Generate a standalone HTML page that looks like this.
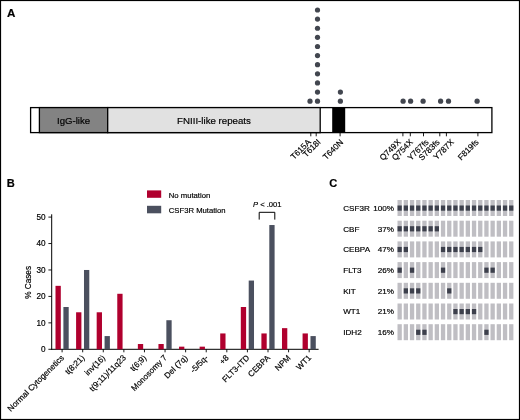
<!DOCTYPE html>
<html><head><meta charset="utf-8"><style>
html,body{margin:0;padding:0;background:#fff;}
svg{display:block;font-family:"Liberation Sans",sans-serif;}
text{stroke:#000;stroke-width:0.18px;}
svg{will-change:transform;}
</style></head><body>
<svg width="520" height="420" viewBox="0 0 520 420">
<rect x="0.5" y="0.5" width="519" height="419" fill="#fff" stroke="#000" stroke-width="1.2"/>
<text x="6.9" y="16.9" font-size="11.6" font-weight="bold">A</text>
<text x="6.8" y="187.4" font-size="11.1" font-weight="bold">B</text>
<text x="329.2" y="187.3" font-size="11.1" font-weight="bold">C</text>
<rect x="30.6" y="107.6" width="461.3" height="25" fill="#fff" stroke="#000" stroke-width="1.3"/>
<rect x="39.4" y="107.6" width="68.3" height="25" fill="#838383" stroke="#000" stroke-width="1.3"/>
<rect x="107.7" y="107.6" width="212.5" height="25" fill="#e1e1e1" stroke="#000" stroke-width="1.3"/>
<rect x="332.2" y="107.6" width="13.0" height="25" fill="#000"/>
<text x="73.5" y="123.6" font-size="9.6" text-anchor="middle" fill="#000">IgG-like</text>
<text x="214" y="123.6" font-size="9.7" text-anchor="middle" fill="#000">FNIII-like repeats</text>
<circle cx="317.5" cy="101.20" r="2.6" fill="#42464F"/>
<circle cx="317.5" cy="92.08" r="2.6" fill="#42464F"/>
<circle cx="317.5" cy="82.96" r="2.6" fill="#42464F"/>
<circle cx="317.5" cy="73.84" r="2.6" fill="#42464F"/>
<circle cx="317.5" cy="64.72" r="2.6" fill="#42464F"/>
<circle cx="317.5" cy="55.60" r="2.6" fill="#42464F"/>
<circle cx="317.5" cy="46.48" r="2.6" fill="#42464F"/>
<circle cx="317.5" cy="37.36" r="2.6" fill="#42464F"/>
<circle cx="317.5" cy="28.24" r="2.6" fill="#42464F"/>
<circle cx="317.5" cy="19.12" r="2.6" fill="#42464F"/>
<circle cx="317.5" cy="10.00" r="2.6" fill="#42464F"/>
<circle cx="310" cy="101.20" r="2.6" fill="#42464F"/>
<circle cx="340.4" cy="101.20" r="2.6" fill="#42464F"/>
<circle cx="340.4" cy="92.10" r="2.6" fill="#42464F"/>
<circle cx="403.1" cy="101.20" r="2.6" fill="#42464F"/>
<circle cx="410.6" cy="101.20" r="2.6" fill="#42464F"/>
<circle cx="423.1" cy="101.20" r="2.6" fill="#42464F"/>
<circle cx="440.6" cy="101.20" r="2.6" fill="#42464F"/>
<circle cx="448.5" cy="101.20" r="2.6" fill="#42464F"/>
<circle cx="477.1" cy="101.20" r="2.6" fill="#42464F"/>
<line x1="310.8" y1="133" x2="310.8" y2="136.3" stroke="#000" stroke-width="0.9"/>
<text transform="translate(311.3,142.7) rotate(-45)" font-size="8.3" text-anchor="end" fill="#000">T615A</text>
<line x1="316.2" y1="133" x2="316.2" y2="136.3" stroke="#000" stroke-width="0.9"/>
<text transform="translate(321.2,142.7) rotate(-45)" font-size="8.3" text-anchor="end" fill="#000">T618I</text>
<line x1="340.1" y1="133" x2="340.1" y2="136.3" stroke="#000" stroke-width="0.9"/>
<text transform="translate(343.8,142.7) rotate(-45)" font-size="8.3" text-anchor="end" fill="#000">T640N</text>
<line x1="402.9" y1="133" x2="402.9" y2="136.3" stroke="#000" stroke-width="0.9"/>
<text transform="translate(401.3,142.7) rotate(-45)" font-size="8.3" text-anchor="end" fill="#000">Q749X</text>
<line x1="410.3" y1="133" x2="410.3" y2="136.3" stroke="#000" stroke-width="0.9"/>
<text transform="translate(413.4,142.7) rotate(-45)" font-size="8.3" text-anchor="end" fill="#000">Q754X</text>
<line x1="423.5" y1="133" x2="423.5" y2="136.3" stroke="#000" stroke-width="0.9"/>
<text transform="translate(429.2,142.7) rotate(-45)" font-size="8.3" text-anchor="end" fill="#000">Y767fs</text>
<line x1="439.8" y1="133" x2="439.8" y2="136.3" stroke="#000" stroke-width="0.9"/>
<text transform="translate(440.3,142.7) rotate(-45)" font-size="8.3" text-anchor="end" fill="#000">S783fs</text>
<line x1="446.4" y1="133" x2="446.4" y2="136.3" stroke="#000" stroke-width="0.9"/>
<text transform="translate(454.4,142.7) rotate(-45)" font-size="8.3" text-anchor="end" fill="#000">Y787X</text>
<line x1="477.9" y1="133" x2="477.9" y2="136.3" stroke="#000" stroke-width="0.9"/>
<text transform="translate(479.2,142.7) rotate(-45)" font-size="8.3" text-anchor="end" fill="#000">F819fs</text>
<rect x="147" y="190.4" width="14.2" height="7.4" fill="#B0002E"/>
<rect x="147" y="205.8" width="14.2" height="7.5" fill="#4B505F"/>
<text x="168.8" y="197.6" font-size="7.7" fill="#000">No mutation</text>
<text x="168.8" y="212.8" font-size="7.7" fill="#000">CSF3R Mutation</text>
<line x1="51.7" y1="214.3" x2="51.7" y2="349.8" stroke="#000" stroke-width="1"/>
<line x1="51.2" y1="349.3" x2="318.6" y2="349.3" stroke="#000" stroke-width="1"/>
<line x1="48.4" y1="349.30" x2="51.7" y2="349.30" stroke="#000" stroke-width="0.9"/>
<text x="45.6" y="352.10" font-size="8.2" text-anchor="end" fill="#000">0</text>
<line x1="48.4" y1="322.86" x2="51.7" y2="322.86" stroke="#000" stroke-width="0.9"/>
<text x="45.6" y="325.66" font-size="8.2" text-anchor="end" fill="#000">10</text>
<line x1="48.4" y1="296.42" x2="51.7" y2="296.42" stroke="#000" stroke-width="0.9"/>
<text x="45.6" y="299.22" font-size="8.2" text-anchor="end" fill="#000">20</text>
<line x1="48.4" y1="269.98" x2="51.7" y2="269.98" stroke="#000" stroke-width="0.9"/>
<text x="45.6" y="272.78" font-size="8.2" text-anchor="end" fill="#000">30</text>
<line x1="48.4" y1="243.54" x2="51.7" y2="243.54" stroke="#000" stroke-width="0.9"/>
<text x="45.6" y="246.34" font-size="8.2" text-anchor="end" fill="#000">40</text>
<line x1="48.4" y1="217.10" x2="51.7" y2="217.10" stroke="#000" stroke-width="0.9"/>
<text x="45.6" y="219.90" font-size="8.2" text-anchor="end" fill="#000">50</text>
<text transform="translate(31.4,282.4) rotate(-90)" font-size="8.2" text-anchor="middle" fill="#000">% Cases</text>
<rect x="55.50" y="285.84" width="5.3" height="63.46" fill="#B0002E"/>
<rect x="63.40" y="307.00" width="5.3" height="42.30" fill="#4B505F"/>
<line x1="62.10" y1="349.3" x2="62.10" y2="352.3" stroke="#000" stroke-width="0.9"/>
<text transform="translate(64.60,358.3) rotate(-45)" font-size="8.2" text-anchor="end" fill="#000">Normal Cytogenetics</text>
<rect x="76.09" y="312.28" width="5.3" height="37.02" fill="#B0002E"/>
<rect x="83.99" y="269.98" width="5.3" height="79.32" fill="#4B505F"/>
<line x1="82.69" y1="349.3" x2="82.69" y2="352.3" stroke="#000" stroke-width="0.9"/>
<text transform="translate(85.19,358.3) rotate(-45)" font-size="8.2" text-anchor="end" fill="#000">t(8;21)</text>
<rect x="96.68" y="312.28" width="5.3" height="37.02" fill="#B0002E"/>
<rect x="104.58" y="336.08" width="5.3" height="13.22" fill="#4B505F"/>
<line x1="103.28" y1="349.3" x2="103.28" y2="352.3" stroke="#000" stroke-width="0.9"/>
<text transform="translate(105.78,358.3) rotate(-45)" font-size="8.2" text-anchor="end" fill="#000">inv(16)</text>
<rect x="117.27" y="293.78" width="5.3" height="55.52" fill="#B0002E"/>
<line x1="123.87" y1="349.3" x2="123.87" y2="352.3" stroke="#000" stroke-width="0.9"/>
<text transform="translate(126.37,358.3) rotate(-45)" font-size="8.2" text-anchor="end" fill="#000">t(9;11)/11q23</text>
<rect x="137.86" y="344.01" width="5.3" height="5.29" fill="#B0002E"/>
<line x1="144.46" y1="349.3" x2="144.46" y2="352.3" stroke="#000" stroke-width="0.9"/>
<text transform="translate(146.96,358.3) rotate(-45)" font-size="8.2" text-anchor="end" fill="#000">t(6;9)</text>
<rect x="158.45" y="344.01" width="5.3" height="5.29" fill="#B0002E"/>
<rect x="166.35" y="320.22" width="5.3" height="29.08" fill="#4B505F"/>
<line x1="165.05" y1="349.3" x2="165.05" y2="352.3" stroke="#000" stroke-width="0.9"/>
<text transform="translate(167.55,358.3) rotate(-45)" font-size="8.2" text-anchor="end" fill="#000">Monosomy 7</text>
<rect x="179.04" y="346.66" width="5.3" height="2.64" fill="#B0002E"/>
<line x1="185.64" y1="349.3" x2="185.64" y2="352.3" stroke="#000" stroke-width="0.9"/>
<text transform="translate(188.14,358.3) rotate(-45)" font-size="8.2" text-anchor="end" fill="#000">Del (7q)</text>
<rect x="199.63" y="346.66" width="5.3" height="2.64" fill="#B0002E"/>
<line x1="206.23" y1="349.3" x2="206.23" y2="352.3" stroke="#000" stroke-width="0.9"/>
<text transform="translate(208.73,358.3) rotate(-45)" font-size="8.2" text-anchor="end" fill="#000">-5/5q-</text>
<rect x="220.22" y="333.44" width="5.3" height="15.86" fill="#B0002E"/>
<line x1="226.82" y1="349.3" x2="226.82" y2="352.3" stroke="#000" stroke-width="0.9"/>
<text transform="translate(229.32,358.3) rotate(-45)" font-size="8.2" text-anchor="end" fill="#000">+8</text>
<rect x="240.81" y="307.00" width="5.3" height="42.30" fill="#B0002E"/>
<rect x="248.71" y="280.56" width="5.3" height="68.74" fill="#4B505F"/>
<line x1="247.41" y1="349.3" x2="247.41" y2="352.3" stroke="#000" stroke-width="0.9"/>
<text transform="translate(249.91,358.3) rotate(-45)" font-size="8.2" text-anchor="end" fill="#000">FLT3-ITD</text>
<rect x="261.40" y="333.44" width="5.3" height="15.86" fill="#B0002E"/>
<rect x="269.30" y="225.03" width="5.3" height="124.27" fill="#4B505F"/>
<line x1="268.00" y1="349.3" x2="268.00" y2="352.3" stroke="#000" stroke-width="0.9"/>
<text transform="translate(270.50,358.3) rotate(-45)" font-size="8.2" text-anchor="end" fill="#000">CEBPA</text>
<rect x="281.99" y="328.15" width="5.3" height="21.15" fill="#B0002E"/>
<line x1="288.59" y1="349.3" x2="288.59" y2="352.3" stroke="#000" stroke-width="0.9"/>
<text transform="translate(291.09,358.3) rotate(-45)" font-size="8.2" text-anchor="end" fill="#000">NPM</text>
<rect x="302.58" y="333.44" width="5.3" height="15.86" fill="#B0002E"/>
<rect x="310.48" y="336.08" width="5.3" height="13.22" fill="#4B505F"/>
<line x1="309.18" y1="349.3" x2="309.18" y2="352.3" stroke="#000" stroke-width="0.9"/>
<text transform="translate(311.68,358.3) rotate(-45)" font-size="8.2" text-anchor="end" fill="#000">WT1</text>
<path d="M259.2 219.6 V212.3 H274.8 V219.6" fill="none" stroke="#000" stroke-width="1"/>
<text x="253" y="207.2" font-size="7.6" fill="#000"><tspan font-style="italic">P</tspan> &lt; .001</text>
<text x="343.2" y="210.90" font-size="8.1" fill="#000">CSF3R</text>
<text x="394" y="210.90" font-size="8.1" text-anchor="end" fill="#000">100%</text>
<rect x="397.50" y="200.00" width="4.3" height="16" fill="#bfbec3"/>
<rect x="397.50" y="205.50" width="4.3" height="5.2" fill="#3d404c"/>
<rect x="403.70" y="200.00" width="4.3" height="16" fill="#bfbec3"/>
<rect x="403.70" y="205.50" width="4.3" height="5.2" fill="#3d404c"/>
<rect x="409.90" y="200.00" width="4.3" height="16" fill="#bfbec3"/>
<rect x="409.90" y="205.50" width="4.3" height="5.2" fill="#3d404c"/>
<rect x="416.10" y="200.00" width="4.3" height="16" fill="#bfbec3"/>
<rect x="416.10" y="205.50" width="4.3" height="5.2" fill="#3d404c"/>
<rect x="422.30" y="200.00" width="4.3" height="16" fill="#bfbec3"/>
<rect x="422.30" y="205.50" width="4.3" height="5.2" fill="#3d404c"/>
<rect x="428.50" y="200.00" width="4.3" height="16" fill="#bfbec3"/>
<rect x="428.50" y="205.50" width="4.3" height="5.2" fill="#3d404c"/>
<rect x="434.70" y="200.00" width="4.3" height="16" fill="#bfbec3"/>
<rect x="434.70" y="205.50" width="4.3" height="5.2" fill="#3d404c"/>
<rect x="440.90" y="200.00" width="4.3" height="16" fill="#bfbec3"/>
<rect x="440.90" y="205.50" width="4.3" height="5.2" fill="#3d404c"/>
<rect x="447.10" y="200.00" width="4.3" height="16" fill="#bfbec3"/>
<rect x="447.10" y="205.50" width="4.3" height="5.2" fill="#3d404c"/>
<rect x="453.30" y="200.00" width="4.3" height="16" fill="#bfbec3"/>
<rect x="453.30" y="205.50" width="4.3" height="5.2" fill="#3d404c"/>
<rect x="459.50" y="200.00" width="4.3" height="16" fill="#bfbec3"/>
<rect x="459.50" y="205.50" width="4.3" height="5.2" fill="#3d404c"/>
<rect x="465.70" y="200.00" width="4.3" height="16" fill="#bfbec3"/>
<rect x="465.70" y="205.50" width="4.3" height="5.2" fill="#3d404c"/>
<rect x="471.90" y="200.00" width="4.3" height="16" fill="#bfbec3"/>
<rect x="471.90" y="205.50" width="4.3" height="5.2" fill="#3d404c"/>
<rect x="478.10" y="200.00" width="4.3" height="16" fill="#bfbec3"/>
<rect x="478.10" y="205.50" width="4.3" height="5.2" fill="#3d404c"/>
<rect x="484.30" y="200.00" width="4.3" height="16" fill="#bfbec3"/>
<rect x="484.30" y="205.50" width="4.3" height="5.2" fill="#3d404c"/>
<rect x="490.50" y="200.00" width="4.3" height="16" fill="#bfbec3"/>
<rect x="490.50" y="205.50" width="4.3" height="5.2" fill="#3d404c"/>
<rect x="496.70" y="200.00" width="4.3" height="16" fill="#bfbec3"/>
<rect x="496.70" y="205.50" width="4.3" height="5.2" fill="#3d404c"/>
<rect x="502.90" y="200.00" width="4.3" height="16" fill="#bfbec3"/>
<rect x="502.90" y="205.50" width="4.3" height="5.2" fill="#3d404c"/>
<rect x="509.10" y="200.00" width="4.3" height="16" fill="#bfbec3"/>
<rect x="509.10" y="205.50" width="4.3" height="5.2" fill="#3d404c"/>
<text x="343.2" y="231.60" font-size="8.1" fill="#000">CBF</text>
<text x="394" y="231.60" font-size="8.1" text-anchor="end" fill="#000">37%</text>
<rect x="397.50" y="220.70" width="4.3" height="16" fill="#bfbec3"/>
<rect x="397.50" y="226.20" width="4.3" height="5.2" fill="#3d404c"/>
<rect x="403.70" y="220.70" width="4.3" height="16" fill="#bfbec3"/>
<rect x="403.70" y="226.20" width="4.3" height="5.2" fill="#3d404c"/>
<rect x="409.90" y="220.70" width="4.3" height="16" fill="#bfbec3"/>
<rect x="409.90" y="226.20" width="4.3" height="5.2" fill="#3d404c"/>
<rect x="416.10" y="220.70" width="4.3" height="16" fill="#bfbec3"/>
<rect x="416.10" y="226.20" width="4.3" height="5.2" fill="#3d404c"/>
<rect x="422.30" y="220.70" width="4.3" height="16" fill="#bfbec3"/>
<rect x="422.30" y="226.20" width="4.3" height="5.2" fill="#3d404c"/>
<rect x="428.50" y="220.70" width="4.3" height="16" fill="#bfbec3"/>
<rect x="428.50" y="226.20" width="4.3" height="5.2" fill="#3d404c"/>
<rect x="434.70" y="220.70" width="4.3" height="16" fill="#bfbec3"/>
<rect x="434.70" y="226.20" width="4.3" height="5.2" fill="#3d404c"/>
<rect x="440.90" y="220.70" width="4.3" height="16" fill="#bfbec3"/>
<rect x="447.10" y="220.70" width="4.3" height="16" fill="#bfbec3"/>
<rect x="453.30" y="220.70" width="4.3" height="16" fill="#bfbec3"/>
<rect x="459.50" y="220.70" width="4.3" height="16" fill="#bfbec3"/>
<rect x="465.70" y="220.70" width="4.3" height="16" fill="#bfbec3"/>
<rect x="471.90" y="220.70" width="4.3" height="16" fill="#bfbec3"/>
<rect x="478.10" y="220.70" width="4.3" height="16" fill="#bfbec3"/>
<rect x="484.30" y="220.70" width="4.3" height="16" fill="#bfbec3"/>
<rect x="490.50" y="220.70" width="4.3" height="16" fill="#bfbec3"/>
<rect x="496.70" y="220.70" width="4.3" height="16" fill="#bfbec3"/>
<rect x="502.90" y="220.70" width="4.3" height="16" fill="#bfbec3"/>
<rect x="509.10" y="220.70" width="4.3" height="16" fill="#bfbec3"/>
<text x="343.2" y="252.30" font-size="8.1" fill="#000">CEBPA</text>
<text x="394" y="252.30" font-size="8.1" text-anchor="end" fill="#000">47%</text>
<rect x="397.50" y="241.40" width="4.3" height="16" fill="#bfbec3"/>
<rect x="397.50" y="246.90" width="4.3" height="5.2" fill="#3d404c"/>
<rect x="403.70" y="241.40" width="4.3" height="16" fill="#bfbec3"/>
<rect x="403.70" y="246.90" width="4.3" height="5.2" fill="#3d404c"/>
<rect x="409.90" y="241.40" width="4.3" height="16" fill="#bfbec3"/>
<rect x="416.10" y="241.40" width="4.3" height="16" fill="#bfbec3"/>
<rect x="422.30" y="241.40" width="4.3" height="16" fill="#bfbec3"/>
<rect x="428.50" y="241.40" width="4.3" height="16" fill="#bfbec3"/>
<rect x="434.70" y="241.40" width="4.3" height="16" fill="#bfbec3"/>
<rect x="440.90" y="241.40" width="4.3" height="16" fill="#bfbec3"/>
<rect x="440.90" y="246.90" width="4.3" height="5.2" fill="#3d404c"/>
<rect x="447.10" y="241.40" width="4.3" height="16" fill="#bfbec3"/>
<rect x="447.10" y="246.90" width="4.3" height="5.2" fill="#3d404c"/>
<rect x="453.30" y="241.40" width="4.3" height="16" fill="#bfbec3"/>
<rect x="453.30" y="246.90" width="4.3" height="5.2" fill="#3d404c"/>
<rect x="459.50" y="241.40" width="4.3" height="16" fill="#bfbec3"/>
<rect x="459.50" y="246.90" width="4.3" height="5.2" fill="#3d404c"/>
<rect x="465.70" y="241.40" width="4.3" height="16" fill="#bfbec3"/>
<rect x="465.70" y="246.90" width="4.3" height="5.2" fill="#3d404c"/>
<rect x="471.90" y="241.40" width="4.3" height="16" fill="#bfbec3"/>
<rect x="471.90" y="246.90" width="4.3" height="5.2" fill="#3d404c"/>
<rect x="478.10" y="241.40" width="4.3" height="16" fill="#bfbec3"/>
<rect x="478.10" y="246.90" width="4.3" height="5.2" fill="#3d404c"/>
<rect x="484.30" y="241.40" width="4.3" height="16" fill="#bfbec3"/>
<rect x="490.50" y="241.40" width="4.3" height="16" fill="#bfbec3"/>
<rect x="496.70" y="241.40" width="4.3" height="16" fill="#bfbec3"/>
<rect x="502.90" y="241.40" width="4.3" height="16" fill="#bfbec3"/>
<rect x="509.10" y="241.40" width="4.3" height="16" fill="#bfbec3"/>
<text x="343.2" y="273.00" font-size="8.1" fill="#000">FLT3</text>
<text x="394" y="273.00" font-size="8.1" text-anchor="end" fill="#000">26%</text>
<rect x="397.50" y="262.10" width="4.3" height="16" fill="#bfbec3"/>
<rect x="397.50" y="267.60" width="4.3" height="5.2" fill="#3d404c"/>
<rect x="403.70" y="262.10" width="4.3" height="16" fill="#bfbec3"/>
<rect x="409.90" y="262.10" width="4.3" height="16" fill="#bfbec3"/>
<rect x="409.90" y="267.60" width="4.3" height="5.2" fill="#3d404c"/>
<rect x="416.10" y="262.10" width="4.3" height="16" fill="#bfbec3"/>
<rect x="422.30" y="262.10" width="4.3" height="16" fill="#bfbec3"/>
<rect x="428.50" y="262.10" width="4.3" height="16" fill="#bfbec3"/>
<rect x="434.70" y="262.10" width="4.3" height="16" fill="#bfbec3"/>
<rect x="440.90" y="262.10" width="4.3" height="16" fill="#bfbec3"/>
<rect x="440.90" y="267.60" width="4.3" height="5.2" fill="#3d404c"/>
<rect x="447.10" y="262.10" width="4.3" height="16" fill="#bfbec3"/>
<rect x="453.30" y="262.10" width="4.3" height="16" fill="#bfbec3"/>
<rect x="459.50" y="262.10" width="4.3" height="16" fill="#bfbec3"/>
<rect x="465.70" y="262.10" width="4.3" height="16" fill="#bfbec3"/>
<rect x="471.90" y="262.10" width="4.3" height="16" fill="#bfbec3"/>
<rect x="478.10" y="262.10" width="4.3" height="16" fill="#bfbec3"/>
<rect x="484.30" y="262.10" width="4.3" height="16" fill="#bfbec3"/>
<rect x="484.30" y="267.60" width="4.3" height="5.2" fill="#3d404c"/>
<rect x="490.50" y="262.10" width="4.3" height="16" fill="#bfbec3"/>
<rect x="490.50" y="267.60" width="4.3" height="5.2" fill="#3d404c"/>
<rect x="496.70" y="262.10" width="4.3" height="16" fill="#bfbec3"/>
<rect x="502.90" y="262.10" width="4.3" height="16" fill="#bfbec3"/>
<rect x="509.10" y="262.10" width="4.3" height="16" fill="#bfbec3"/>
<text x="343.2" y="293.70" font-size="8.1" fill="#000">KIT</text>
<text x="394" y="293.70" font-size="8.1" text-anchor="end" fill="#000">21%</text>
<rect x="397.50" y="282.80" width="4.3" height="16" fill="#bfbec3"/>
<rect x="403.70" y="282.80" width="4.3" height="16" fill="#bfbec3"/>
<rect x="403.70" y="288.30" width="4.3" height="5.2" fill="#3d404c"/>
<rect x="409.90" y="282.80" width="4.3" height="16" fill="#bfbec3"/>
<rect x="409.90" y="288.30" width="4.3" height="5.2" fill="#3d404c"/>
<rect x="416.10" y="282.80" width="4.3" height="16" fill="#bfbec3"/>
<rect x="416.10" y="288.30" width="4.3" height="5.2" fill="#3d404c"/>
<rect x="422.30" y="282.80" width="4.3" height="16" fill="#bfbec3"/>
<rect x="428.50" y="282.80" width="4.3" height="16" fill="#bfbec3"/>
<rect x="434.70" y="282.80" width="4.3" height="16" fill="#bfbec3"/>
<rect x="440.90" y="282.80" width="4.3" height="16" fill="#bfbec3"/>
<rect x="447.10" y="282.80" width="4.3" height="16" fill="#bfbec3"/>
<rect x="447.10" y="288.30" width="4.3" height="5.2" fill="#3d404c"/>
<rect x="453.30" y="282.80" width="4.3" height="16" fill="#bfbec3"/>
<rect x="459.50" y="282.80" width="4.3" height="16" fill="#bfbec3"/>
<rect x="465.70" y="282.80" width="4.3" height="16" fill="#bfbec3"/>
<rect x="471.90" y="282.80" width="4.3" height="16" fill="#bfbec3"/>
<rect x="478.10" y="282.80" width="4.3" height="16" fill="#bfbec3"/>
<rect x="484.30" y="282.80" width="4.3" height="16" fill="#bfbec3"/>
<rect x="490.50" y="282.80" width="4.3" height="16" fill="#bfbec3"/>
<rect x="496.70" y="282.80" width="4.3" height="16" fill="#bfbec3"/>
<rect x="502.90" y="282.80" width="4.3" height="16" fill="#bfbec3"/>
<rect x="509.10" y="282.80" width="4.3" height="16" fill="#bfbec3"/>
<text x="343.2" y="314.40" font-size="8.1" fill="#000">WT1</text>
<text x="394" y="314.40" font-size="8.1" text-anchor="end" fill="#000">21%</text>
<rect x="397.50" y="303.50" width="4.3" height="16" fill="#bfbec3"/>
<rect x="403.70" y="303.50" width="4.3" height="16" fill="#bfbec3"/>
<rect x="409.90" y="303.50" width="4.3" height="16" fill="#bfbec3"/>
<rect x="416.10" y="303.50" width="4.3" height="16" fill="#bfbec3"/>
<rect x="422.30" y="303.50" width="4.3" height="16" fill="#bfbec3"/>
<rect x="428.50" y="303.50" width="4.3" height="16" fill="#bfbec3"/>
<rect x="434.70" y="303.50" width="4.3" height="16" fill="#bfbec3"/>
<rect x="440.90" y="303.50" width="4.3" height="16" fill="#bfbec3"/>
<rect x="447.10" y="303.50" width="4.3" height="16" fill="#bfbec3"/>
<rect x="453.30" y="303.50" width="4.3" height="16" fill="#bfbec3"/>
<rect x="453.30" y="309.00" width="4.3" height="5.2" fill="#3d404c"/>
<rect x="459.50" y="303.50" width="4.3" height="16" fill="#bfbec3"/>
<rect x="459.50" y="309.00" width="4.3" height="5.2" fill="#3d404c"/>
<rect x="465.70" y="303.50" width="4.3" height="16" fill="#bfbec3"/>
<rect x="465.70" y="309.00" width="4.3" height="5.2" fill="#3d404c"/>
<rect x="471.90" y="303.50" width="4.3" height="16" fill="#bfbec3"/>
<rect x="471.90" y="309.00" width="4.3" height="5.2" fill="#3d404c"/>
<rect x="478.10" y="303.50" width="4.3" height="16" fill="#bfbec3"/>
<rect x="484.30" y="303.50" width="4.3" height="16" fill="#bfbec3"/>
<rect x="490.50" y="303.50" width="4.3" height="16" fill="#bfbec3"/>
<rect x="496.70" y="303.50" width="4.3" height="16" fill="#bfbec3"/>
<rect x="502.90" y="303.50" width="4.3" height="16" fill="#bfbec3"/>
<rect x="509.10" y="303.50" width="4.3" height="16" fill="#bfbec3"/>
<text x="343.2" y="335.10" font-size="8.1" fill="#000">IDH2</text>
<text x="394" y="335.10" font-size="8.1" text-anchor="end" fill="#000">16%</text>
<rect x="397.50" y="324.20" width="4.3" height="16" fill="#bfbec3"/>
<rect x="403.70" y="324.20" width="4.3" height="16" fill="#bfbec3"/>
<rect x="409.90" y="324.20" width="4.3" height="16" fill="#bfbec3"/>
<rect x="416.10" y="324.20" width="4.3" height="16" fill="#bfbec3"/>
<rect x="416.10" y="329.70" width="4.3" height="5.2" fill="#3d404c"/>
<rect x="422.30" y="324.20" width="4.3" height="16" fill="#bfbec3"/>
<rect x="422.30" y="329.70" width="4.3" height="5.2" fill="#3d404c"/>
<rect x="428.50" y="324.20" width="4.3" height="16" fill="#bfbec3"/>
<rect x="434.70" y="324.20" width="4.3" height="16" fill="#bfbec3"/>
<rect x="440.90" y="324.20" width="4.3" height="16" fill="#bfbec3"/>
<rect x="447.10" y="324.20" width="4.3" height="16" fill="#bfbec3"/>
<rect x="453.30" y="324.20" width="4.3" height="16" fill="#bfbec3"/>
<rect x="459.50" y="324.20" width="4.3" height="16" fill="#bfbec3"/>
<rect x="465.70" y="324.20" width="4.3" height="16" fill="#bfbec3"/>
<rect x="471.90" y="324.20" width="4.3" height="16" fill="#bfbec3"/>
<rect x="478.10" y="324.20" width="4.3" height="16" fill="#bfbec3"/>
<rect x="484.30" y="324.20" width="4.3" height="16" fill="#bfbec3"/>
<rect x="484.30" y="329.70" width="4.3" height="5.2" fill="#3d404c"/>
<rect x="490.50" y="324.20" width="4.3" height="16" fill="#bfbec3"/>
<rect x="496.70" y="324.20" width="4.3" height="16" fill="#bfbec3"/>
<rect x="502.90" y="324.20" width="4.3" height="16" fill="#bfbec3"/>
<rect x="509.10" y="324.20" width="4.3" height="16" fill="#bfbec3"/>
</svg>
</body></html>
